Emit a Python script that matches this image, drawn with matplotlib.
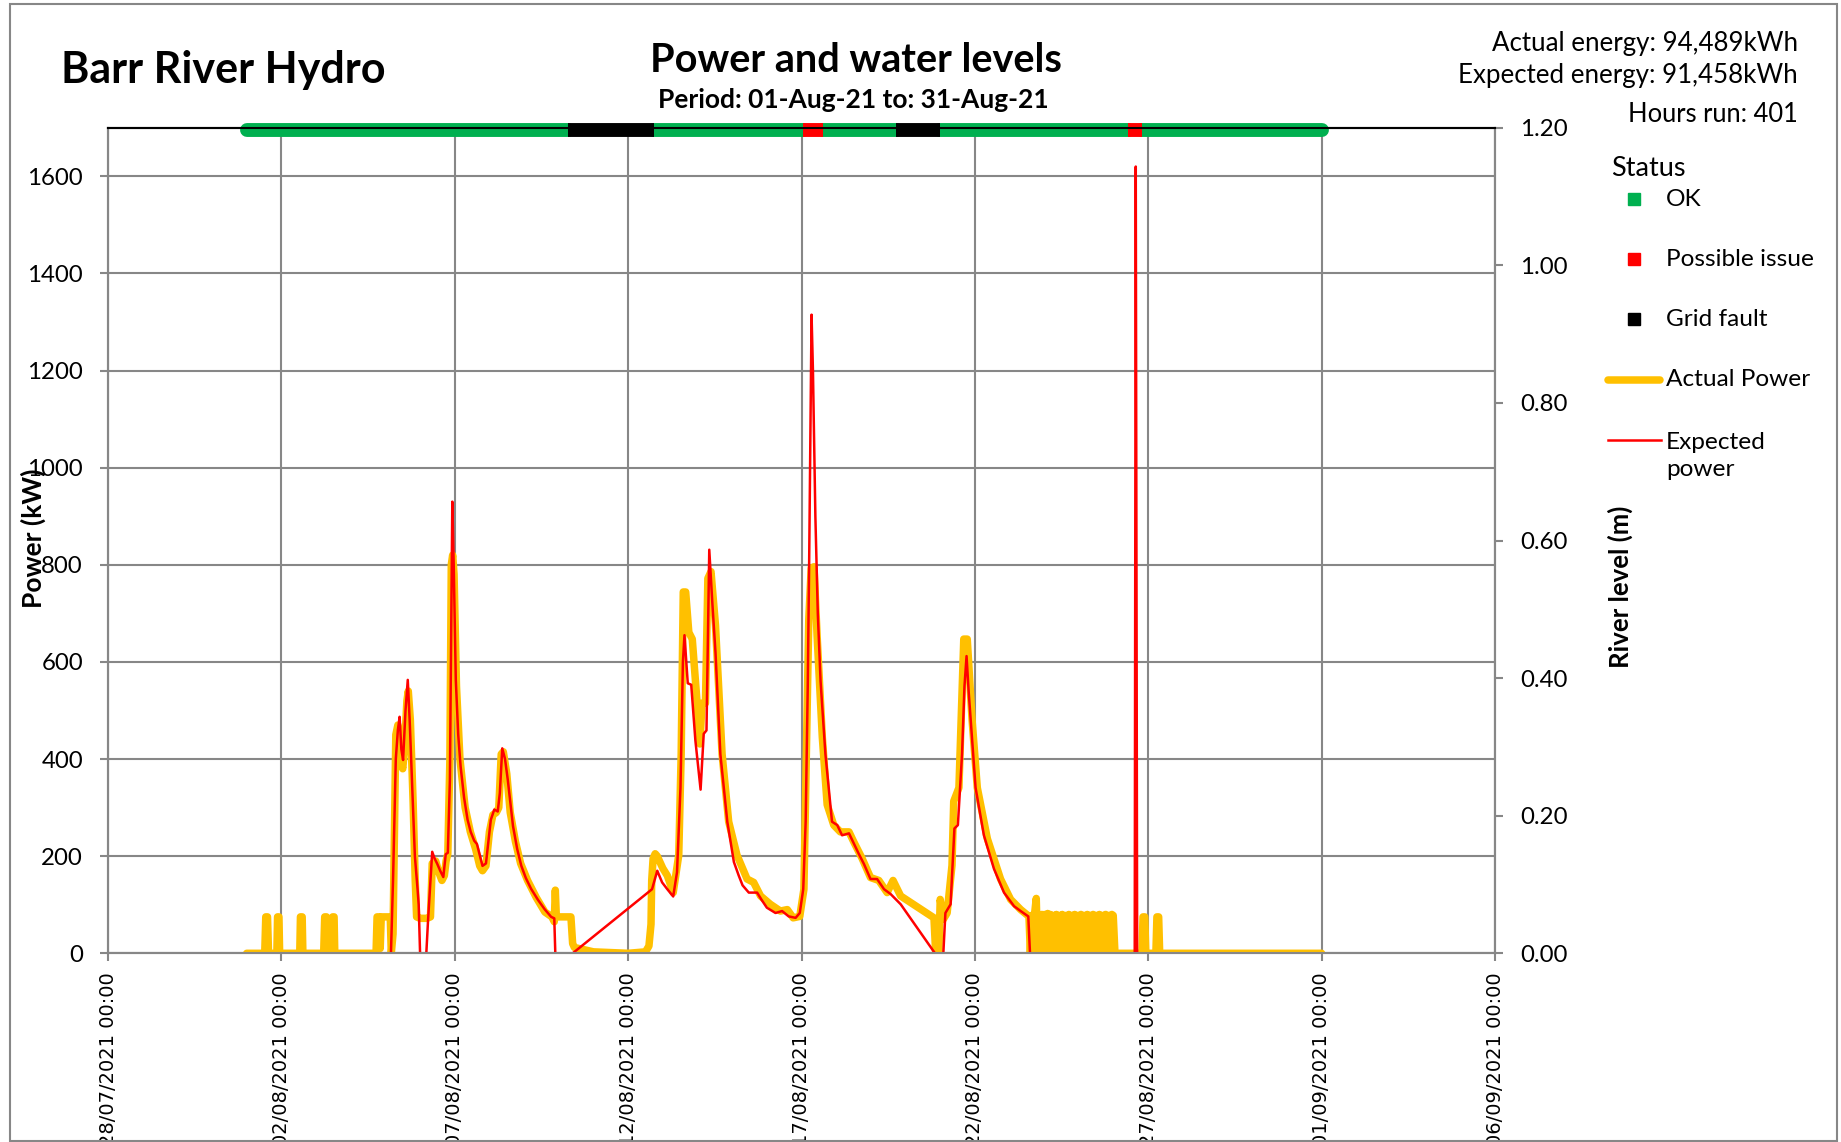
import matplotlib
matplotlib.use("Agg")
import matplotlib.pyplot as plt
from matplotlib.lines import Line2D
from matplotlib.patches import Rectangle
from matplotlib.ticker import FuncFormatter
from datetime import datetime, timedelta

# ---------------- data (time in days since 01/08/2021 00:00) ----------------
actual_t = [0, 0.52, 0.55, 0.60, 0.63, 0.87, 0.89, 0.93, 0.95, 1.53, 1.55, 1.60, 1.62,
            2.22, 2.25, 2.30, 2.33, 2.46, 2.48, 2.52, 2.54, 3.73, 3.76, 3.82, 3.85, 3.88,
            4.10, 4.14, 4.17, 4.22, 4.30, 4.36, 4.43, 4.50, 4.55, 4.62, 4.66, 4.72, 4.80,
            4.86, 4.90, 5.00, 5.10, 5.20, 5.30, 5.35, 5.45, 5.55, 5.63, 5.70, 5.75, 5.80,
            5.86, 5.90, 5.94, 5.98, 6.05, 6.15, 6.30, 6.45, 6.60, 6.72, 6.80, 6.90, 7.00,
            7.10, 7.20, 7.27, 7.34, 7.40, 7.50, 7.60, 7.75, 7.90, 8.10, 8.35, 8.60, 8.80,
            8.87, 8.90, 8.93, 9.00, 9.20, 9.35, 9.40, 9.45, 10.00, 11.00, 11.50, 11.60,
            11.66, 11.68, 11.72, 11.78, 11.84, 12.00, 12.13, 12.30, 12.46, 12.53, 12.59,
            12.66, 12.75, 12.85, 12.99, 13.07, 13.13, 13.23, 13.30, 13.39, 13.52, 13.71,
            13.90, 14.14, 14.43, 14.62, 14.82, 15.10, 15.39, 15.59, 15.76, 15.95, 16.07,
            16.14, 16.21, 16.28, 16.36, 16.45, 16.60, 16.74, 16.93, 17.12, 17.37, 17.51,
            17.75, 17.99, 18.23, 18.47, 18.64, 18.86, 19.82, 19.87, 19.96, 20.00, 20.09,
            20.20, 20.34, 20.39, 20.54, 20.68, 20.78, 20.92, 21.07, 21.36, 21.74, 22.03,
            22.32, 22.56, 22.60, 22.64, 22.68, 22.72, 22.77, 22.81, 22.85, 22.89, 22.93,
            22.97, 23.01, 23.05, 23.10, 23.14, 23.18, 23.23, 23.27, 23.31, 23.35, 23.40,
            23.44, 23.48, 23.52, 23.58, 23.62, 23.66, 23.71, 23.75, 23.80, 23.84, 23.88,
            23.93, 23.97, 24.02, 24.06, 24.10, 24.15, 24.19, 24.24, 24.28, 24.32, 24.37,
            24.41, 24.46, 24.50, 24.55, 24.59, 24.64, 24.68, 24.73, 24.77, 24.82, 24.86,
            24.90, 24.95, 24.99, 25.04, 25.08,
            25.82, 25.85, 25.90, 25.93, 26.22, 26.25, 26.30, 26.33, 31.00]
actual_kw = [0, 0, 75, 75, 0, 0, 75, 75, 0, 0, 75, 75, 0,
             0, 75, 75, 0, 0, 75, 75, 0, 0, 75, 75, 10, 75,
             75, 75, 0, 40, 450, 470, 400, 380, 420, 520, 540, 480, 310,
             150, 75, 72, 72, 72, 75, 185, 190, 165, 150, 160, 190, 205,
             400, 800, 820, 780, 550, 400, 300, 250, 215, 180, 170, 180, 250,
             285, 290, 300, 410, 415, 370, 290, 230, 185, 150, 115, 85, 75,
             65, 130, 75, 75, 75, 75, 20, 12, 3, 0, 3, 15,
             60, 150, 195, 205, 200, 175, 160, 125, 202, 410, 744,
             744, 661, 647, 515, 431, 515, 515, 772, 786, 675, 410,
             271, 202, 153, 146, 118, 101, 87, 90, 73, 76, 132,
             410, 688, 793, 796, 654, 445, 306, 264, 250, 250, 229,
             195, 156, 150, 125, 150, 118, 73, 0, 0, 111, 70,
             83, 181, 313, 341, 647, 647, 480, 341, 236, 153, 111,
             90, 76, 0, 78, 0, 80, 113, 0, 80, 20, 80,
             0, 80, 0, 82, 40, 80, 0, 78, 10, 80, 0,
             78, 0, 80, 0, 78, 30, 80, 0, 78, 0, 80,
             20, 78, 0, 80, 0, 78, 10, 80, 0, 78, 0,
             80, 0, 78, 30, 80, 0, 78, 0, 80, 0, 78,
             20, 80, 78, 0, 0,
             0, 75, 75, 0, 0, 75, 75, 0, 0]

expected_t = [0, 4.16, 4.22, 4.30, 4.36, 4.41, 4.46, 4.51, 4.58, 4.645, 4.70, 4.78, 4.85,
              4.93, 4.96, 5.00, 5.18, 5.23, 5.35, 5.42, 5.49, 5.58, 5.67, 5.74, 5.80, 5.86,
              5.90, 5.93, 5.97, 6.03, 6.10, 6.17, 6.27, 6.37, 6.46, 6.56, 6.64, 6.80, 6.90,
              7.04, 7.14, 7.24, 7.30, 7.37, 7.45, 7.53, 7.68, 7.80, 7.92, 8.05, 8.20, 8.40,
              8.59, 8.78, 8.87, 8.90, 9.40, 11.62, 11.69, 11.84, 11.98, 12.13, 12.30, 12.41,
              12.51, 12.58, 12.625, 12.72, 12.82, 12.94, 13.09, 13.18, 13.26, 13.30, 13.34,
              13.43, 13.52, 13.66, 13.86, 14.05, 14.19, 14.30, 14.48, 14.72, 14.85, 15.00,
              15.25, 15.44, 15.63, 15.83, 15.95, 16.05, 16.12, 16.18, 16.22, 16.26, 16.29,
              16.33, 16.40, 16.47, 16.55, 16.69, 16.88, 17.03, 17.17, 17.37, 17.51, 17.65,
              17.80, 17.99, 18.18, 18.38, 18.57, 18.86, 19.85, 20.09, 20.15, 20.30, 20.41,
              20.51, 20.63, 20.70, 20.76, 20.82, 20.88, 21.02, 21.26, 21.55, 21.84, 22.13,
              22.32, 22.54, 22.59, 25.61, 25.64, 25.68, 31.00]
expected_kw = [0, 0, 150, 400, 460, 487, 420, 398, 500, 563, 480, 330, 200,
               130, 100, 0, 0, 68, 209, 195, 185, 170, 157, 204, 207, 357,
               700, 930, 800, 563, 450, 384, 320, 275, 250, 232, 225, 180, 185,
               275, 296, 292, 330, 422, 400, 357, 262, 215, 180, 155, 133, 110,
               91, 75, 72, 0, 0, 128, 132, 170, 146, 132, 117, 167,
               341, 600, 655, 556, 553, 438, 337, 452, 459, 650, 831,
               720, 619, 410, 271, 188, 160, 140, 125, 125, 110, 94,
               83, 87, 76, 73, 83, 132, 271, 549, 800, 1100, 1315,
               1200, 900, 700, 560, 410, 271, 264, 243, 247, 226, 205,
               184, 153, 153, 132, 122, 101, 0, 0, 83, 101, 257,
               264, 410, 550, 612, 540, 480, 341, 243, 174, 125, 97,
               87, 76, 0, 0, 1620, 0, 0]

status_start = [0, 9.28, 11.76, 16.03, 16.63, 18.72, 19.98, 25.43, 25.83]
status_end = [9.28, 11.76, 16.03, 16.63, 18.72, 19.98, 25.43, 25.83, 31.0]
status_code = ["OK", "Grid fault", "OK", "Possible issue", "OK", "Grid fault", "OK",
               "Possible issue", "OK"]
status_names = ["OK", "Possible issue", "Grid fault"]
status_colors = {"OK": "#00B050", "Possible issue": "#FF0000", "Grid fault": "#000000"}

x_ticks = [-4, 1, 6, 11, 16, 21, 26, 31, 36]
power_ticks = [0, 200, 400, 600, 800, 1000, 1200, 1400, 1600]
level_ticks = [0.0, 0.2, 0.4, 0.6, 0.8, 1.0, 1.2]
base_date = datetime(2021, 8, 1)

# ---------------- figure ----------------
W, H = 1841, 1142
plt.rcParams['font.family'] = ['Lato', 'DejaVu Sans']
fig = plt.figure(figsize=(W / 100, H / 100), dpi=100)


def fx(px):
    return px / W


def fy(py):
    return 1 - py / H


ax_l, ax_r, ax_t, ax_b = 108, 1495, 127.7, 953.3
ax = fig.add_axes([fx(ax_l), fy(ax_b), (ax_r - ax_l) / W, (ax_b - ax_t) / H])
ax.set_xlim(-4, 36)
ax.set_ylim(0, 1700)
ax2 = ax.twinx()
ax2.set_ylim(0, 1.2)

grey = '#878787'
ax.set_xticks(x_ticks)
ax.set_yticks(power_ticks)
ax.grid(True, color=grey, lw=1.5, zorder=0)
ax.set_axisbelow(True)
ax.xaxis.set_major_formatter(FuncFormatter(
    lambda v, p: (base_date + timedelta(days=float(v))).strftime('%d/%m/%Y %H:%M')))
ax.tick_params(axis='x', direction='out', length=6, width=1.5, color=grey, pad=8,
               labelrotation=90, labelsize=14, labelfontfamily='DejaVu Sans')
ax.tick_params(axis='y', direction='out', length=6, width=1.5, color=grey, pad=12,
               labelsize=17.3)
ax2.set_yticks(level_ticks)
ax2.yaxis.set_major_formatter(FuncFormatter(lambda v, p: f"{v:.2f}"))
ax2.tick_params(axis='y', direction='out', length=6, width=1.5, color=grey, pad=12,
                labelsize=17.3)

for a in (ax, ax2):
    a.spines['top'].set_color('black')
    a.spines['top'].set_linewidth(1.5)
    for s in ('left', 'right', 'bottom'):
        a.spines[s].set_color(grey)
        a.spines[s].set_linewidth(1.5)

# data lines
ax.plot(actual_t, actual_kw, color='#FFC000', lw=5.4, solid_joinstyle='round',
        solid_capstyle='round', zorder=3)
ax.plot(expected_t, expected_kw, color='#FF0000', lw=1.8, zorder=4)

# status bar at the top
bar_y = 1695
for s, e, c in zip(status_start, status_end, status_code):
    if c == "OK":
        ax.plot([s, e], [bar_y, bar_y], color=status_colors[c], lw=10,
                solid_capstyle='round', clip_on=False, zorder=5)
for s, e, c in zip(status_start, status_end, status_code):
    if c != "OK":
        ax.plot([s, e], [bar_y, bar_y], color=status_colors[c], lw=10,
                solid_capstyle='butt', clip_on=False, zorder=6)

# axis titles
fig.text(fx(33), fy(538), "Power (kW)", rotation=90, ha='center', va='center',
         fontsize=19, fontweight='bold')
fig.text(fx(1620), fy(587), "River level (m)", rotation=90, ha='center', va='center',
         fontsize=18.5, fontweight='bold')

# titles
fig.text(fx(61), fy(70), "Barr River Hydro", ha='left', va='center', fontsize=31,
         fontweight='bold')
fig.text(fx(856), fy(60), "Power and water levels", ha='center', va='center',
         fontsize=28.5, fontweight='bold')
fig.text(fx(853), fy(100), "Period: 01-Aug-21 to: 31-Aug-21", ha='center', va='center',
         fontsize=19, fontweight='bold')
fig.text(fx(1798), fy(43), "Actual energy: 94,489kWh", ha='right', va='center', fontsize=18.6)
fig.text(fx(1798), fy(76), "Expected energy: 91,458kWh", ha='right', va='center',
         fontsize=18.6)
fig.text(fx(1798), fy(115), "Hours run: 401", ha='right', va='center', fontsize=18.4)

# legend
fig.text(fx(1611), fy(168), "Status", ha='left', va='center', fontsize=19.5)
for name, ypx in zip(status_names, [199, 259, 319]):
    fig.add_artist(Line2D([fx(1634)], [fy(ypx)], marker='s', ms=9, ls='none',
                          color=status_colors[name], transform=fig.transFigure))
    fig.text(fx(1666), fy(ypx), name, ha='left', va='center', fontsize=17.6)
fig.add_artist(Line2D([fx(1608), fx(1660)], [fy(380), fy(380)], color='#FFC000', lw=5.4,
                      solid_capstyle='round', transform=fig.transFigure))
fig.text(fx(1666), fy(380), "Actual Power", ha='left', va='center', fontsize=17.6)
fig.add_artist(Line2D([fx(1608), fx(1661)], [fy(440), fy(440)], color='#FF0000', lw=1.8,
                      transform=fig.transFigure))
fig.text(fx(1666), fy(456), "Expected\npower", ha='left', va='center', fontsize=17.6,
         linespacing=1.35)

# outer chart border
fig.add_artist(Rectangle((fx(10), fy(1141)), (1837 - 10) / W, (1141 - 4) / H,
                         transform=fig.transFigure, fill=False, edgecolor=grey, lw=1.5))

fig.savefig("out.png", dpi=100)
